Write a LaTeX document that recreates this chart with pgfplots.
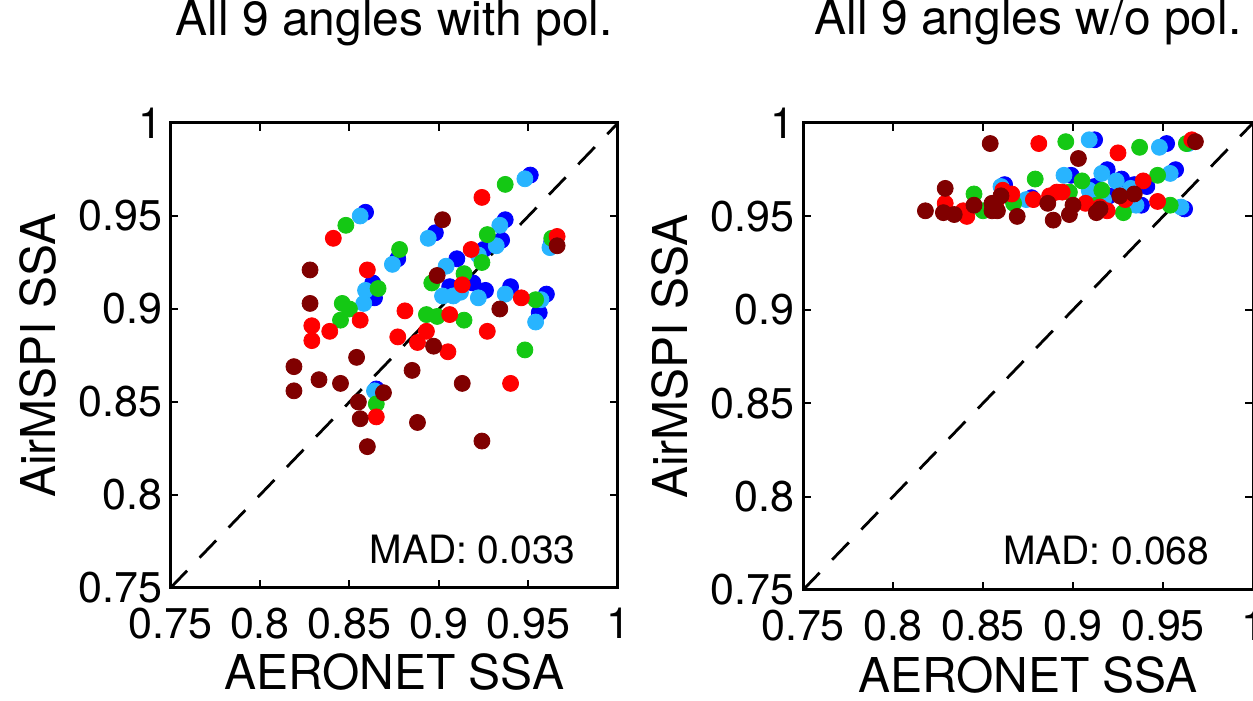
\documentclass[border=0pt]{standalone}
\usepackage{fontspec}
\setmainfont{TeX Gyre Heros}
\usepackage{pgfplots}
\pgfplotsset{compat=1.18}
\definecolor{dred}{RGB}{128,0,0}
\definecolor{mred}{RGB}{255,0,0}
\definecolor{mgreen}{RGB}{20,200,20}
\definecolor{mblue}{RGB}{0,0,255}
\definecolor{lblue}{RGB}{40,180,255}
\pgfplotsset{
  dot/.style={only marks, mark=*, mark size=4pt, color=#1, mark options={draw=none, fill=#1}},
  ssa/.style={
    scale only axis,
    xmin=0.75, xmax=1, ymin=0.75, ymax=1,
    xtick={0.75,0.8,0.85,0.9,0.95,1}, ytick={0.75,0.8,0.85,0.9,0.95,1},
    xticklabels={0.75,0.8,0.85,0.9,0.95,1}, yticklabels={0.75,0.8,0.85,0.9,0.95,1},
    tick align=inside, major tick length=4pt,
    axis line style={line width=1.5pt},
    every tick/.style={black, line width=1pt},
    ticklabel style={font=\fontsize{21.5}{21.5}\selectfont, inner sep=0pt},
    xticklabel shift=10pt, yticklabel shift=4pt,
    label style={font=\fontsize{24}{24}\selectfont, inner sep=0pt},
    xlabel={AERONET SSA}, ylabel={AirMSPI SSA},
    xlabel style={at={(axis description cs:0.5,-0.219)}, anchor=base},
    ylabel style={at={(axis description cs:-0.253,0.5)}, anchor=south},
    title style={at={(axis description cs:0.5,1.163)}, anchor=base, font=\fontsize{24}{24}\selectfont, inner sep=0pt},
  }
}
\begin{document}
\begin{tikzpicture}
\begin{axis}[ssa, width=223.8pt, height=232.5pt, at={(85.2pt,56.5pt)}, anchor=south west,
  title={All 9 angles with pol.}]
\addplot[dot=mblue] coordinates {
(0.951,0.972) (0.859,0.952) (0.898,0.941) (0.877,0.927) (0.937,0.948) (0.935,0.937)
(0.963,0.936) (0.925,0.932) (0.910,0.927) (0.863,0.914) (0.864,0.906) (0.906,0.912)
(0.919,0.914) (0.926,0.910) (0.940,0.912) (0.960,0.908) (0.956,0.898) (0.865,0.857)};
\addplot[dot=lblue] coordinates {
(0.948,0.970) (0.856,0.950) (0.894,0.938) (0.874,0.924) (0.934,0.945) (0.932,0.934)
(0.962,0.933) (0.922,0.929) (0.904,0.923) (0.859,0.910) (0.858,0.903) (0.912,0.909)
(0.902,0.907) (0.908,0.907) (0.922,0.906) (0.937,0.908) (0.957,0.905) (0.954,0.893)
(0.864,0.856)};
\addplot[dot=mgreen] coordinates {
(0.937,0.967) (0.848,0.945) (0.878,0.932) (0.927,0.940) (0.924,0.925) (0.914,0.919)
(0.896,0.914) (0.866,0.911) (0.846,0.903) (0.850,0.900) (0.845,0.894) (0.893,0.897)
(0.899,0.896) (0.914,0.894) (0.954,0.905) (0.948,0.878) (0.865,0.849) (0.963,0.938)};
\addplot[dot=mred] coordinates {
(0.924,0.960) (0.841,0.938) (0.966,0.939) (0.918,0.932) (0.860,0.921) (0.913,0.913)
(0.856,0.894) (0.881,0.899) (0.906,0.897) (0.946,0.906) (0.829,0.891) (0.839,0.888)
(0.829,0.883) (0.927,0.888) (0.877,0.885) (0.893,0.888) (0.888,0.882) (0.905,0.877)
(0.940,0.860) (0.865,0.842)};
\addplot[dot=dred] coordinates {
(0.902,0.948) (0.966,0.934) (0.828,0.921) (0.828,0.903) (0.899,0.918) (0.934,0.900)
(0.897,0.880) (0.854,0.874) (0.819,0.869) (0.819,0.856) (0.833,0.862) (0.845,0.860)
(0.885,0.867) (0.913,0.860) (0.869,0.855) (0.855,0.850) (0.856,0.841) (0.888,0.839)
(0.860,0.826) (0.924,0.829)};
\addplot[black, line width=1.4pt, dash pattern=on 12pt off 9pt, no marks] coordinates {(0.75,0.75) (1,1)};
\node[anchor=base west, inner sep=0pt, font=\fontsize{19.5}{19.5}\selectfont] at (axis cs:0.861,0.7634) {MAD: 0.033};
\end{axis}
\begin{axis}[ssa, width=225pt, height=233.5pt, at={(401.5pt,55.5pt)}, anchor=south west,
  title={All 9 angles w/o pol.}]
\addplot[dot=mblue] coordinates {
(0.912,0.991) (0.952,0.989) (0.899,0.972) (0.919,0.975) (0.927,0.970) (0.957,0.975)
(0.862,0.967) (0.912,0.966) (0.920,0.961) (0.934,0.967) (0.938,0.956) (0.962,0.954)
(0.877,0.960) (0.941,0.966)};
\addplot[dot=lblue] coordinates {
(0.909,0.991) (0.948,0.987) (0.964,0.989) (0.895,0.972) (0.916,0.973) (0.924,0.969)
(0.954,0.973) (0.860,0.966) (0.909,0.964) (0.917,0.959) (0.932,0.965) (0.935,0.956)
(0.960,0.955) (0.874,0.959) (0.909,0.959)};
\addplot[dot=mgreen] coordinates {
(0.896,0.990) (0.937,0.987) (0.963,0.989) (0.879,0.970) (0.905,0.969) (0.947,0.972)
(0.845,0.962) (0.916,0.964) (0.913,0.956) (0.928,0.952) (0.954,0.956) (0.850,0.953)
(0.867,0.957) (0.898,0.963)};
\addplot[dot=mred] coordinates {
(0.881,0.989) (0.925,0.984) (0.966,0.991) (0.939,0.969) (0.861,0.964) (0.866,0.962)
(0.891,0.963) (0.894,0.963) (0.887,0.961) (0.878,0.959) (0.907,0.957) (0.919,0.953)
(0.929,0.959) (0.947,0.958) (0.829,0.957) (0.839,0.953) (0.857,0.957) (0.841,0.950)
(0.915,0.955)};
\addplot[dot=dred] coordinates {
(0.854,0.989) (0.968,0.990) (0.903,0.981) (0.829,0.965) (0.818,0.953) (0.828,0.952)
(0.834,0.951) (0.845,0.956) (0.855,0.953) (0.858,0.953) (0.855,0.957) (0.860,0.961)
(0.869,0.950) (0.886,0.957) (0.889,0.948) (0.898,0.951) (0.900,0.956) (0.913,0.952)
(0.915,0.954) (0.926,0.961) (0.934,0.962)};
\addplot[black, line width=1.4pt, dash pattern=on 12pt off 9pt, no marks] coordinates {(0.75,0.75) (1,1)};
\node[anchor=base west, inner sep=0pt, font=\fontsize{19.5}{19.5}\selectfont] at (axis cs:0.861,0.7634) {MAD: 0.068};
\end{axis}
\pgfresetboundingbox
\useasboundingbox (0,0) rectangle (626.5pt,350.5pt);
\end{tikzpicture}
\end{document}
